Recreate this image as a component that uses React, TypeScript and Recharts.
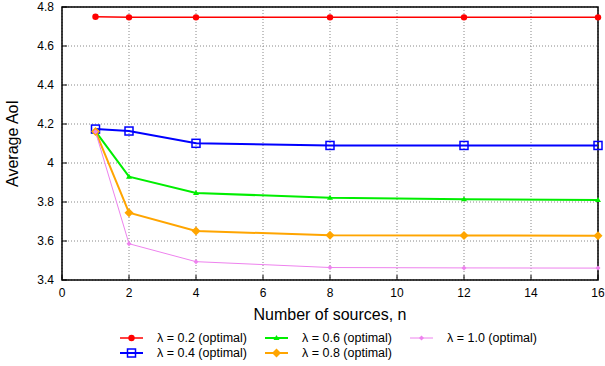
import { LineChart, Line, XAxis, YAxis, CartesianGrid, ReferenceArea } from 'recharts'

// n values and measured average AoI per lambda
const sources = [1, 2, 4, 8, 12, 16]
const lambda02 = [4.75, 4.747, 4.747, 4.747, 4.747, 4.747]
const lambda04 = [4.174, 4.164, 4.101, 4.09, 4.09, 4.09]
const lambda06 = [4.162, 3.93, 3.846, 3.822, 3.814, 3.81]
const lambda08 = [4.162, 3.745, 3.651, 3.63, 3.628, 3.627]
const lambda10 = [4.16, 3.586, 3.494, 3.464, 3.462, 3.461]

const seriesKeys = ['l02', 'l04', 'l06', 'l08', 'l10']
const seriesNames = ['λ = 0.2 (optimal)', 'λ = 0.4 (optimal)', 'λ = 0.6 (optimal)', 'λ = 0.8 (optimal)', 'λ = 1.0 (optimal)']
const seriesColors = ['#ff0000', '#0000ff', '#00ee00', '#ffa500', '#ee82ee']
const seriesWidths = [1.5, 2, 2, 2, 1]

const xTicks = [0, 2, 4, 6, 8, 10, 12, 14, 16]
const yTicks = [3.4, 3.6, 3.8, 4, 4.2, 4.4, 4.6, 4.8]

const rows = sources.map((n, i) => ({
  n,
  l02: lambda02[i],
  l04: lambda04[i],
  l06: lambda06[i],
  l08: lambda08[i],
  l10: lambda10[i],
}))

const FONT = '"Liberation Sans", Arial, Helvetica, sans-serif'

function Marker({ kind, cx, cy, color }: { kind: number; cx: number; cy: number; color: string }) {
  switch (kind) {
    case 0:
      return <circle cx={cx} cy={cy} r={3.2} fill={color} />
    case 1:
      return <rect x={cx - 4} y={cy - 4} width={8} height={8} fill="none" stroke={color} strokeWidth={1.5} />
    case 2:
      return <polygon points={`${cx},${cy - 3} ${cx + 3},${cy + 2} ${cx - 3},${cy + 2}`} fill={color} />
    case 3:
      return <polygon points={`${cx},${cy - 4.5} ${cx + 4.5},${cy} ${cx},${cy + 4.5} ${cx - 4.5},${cy}`} fill={color} />
    default:
      return <polygon points={`${cx},${cy - 2.5} ${cx + 2.5},${cy} ${cx},${cy + 2.5} ${cx - 2.5},${cy}`} fill={color} />
  }
}

// eslint-disable-next-line @typescript-eslint/no-explicit-any
const BottomTick = ({ x, y, payload }: any) => (
  <g>
    <line x1={x} y1={y} x2={x} y2={y - 5} stroke="#000" strokeWidth={1} />
    <text x={x} y={y + 13} textAnchor="middle" dominantBaseline="central" fontSize={12} fill="#000" fontFamily={FONT}>
      {payload.value}
    </text>
  </g>
)

// eslint-disable-next-line @typescript-eslint/no-explicit-any
const LeftTick = ({ x, y, payload }: any) => (
  <g>
    <line x1={x} y1={y} x2={x + 5} y2={y} stroke="#000" strokeWidth={1} />
    <text x={x - 8} y={y} textAnchor="end" dominantBaseline="central" fontSize={12} fill="#000" fontFamily={FONT}>
      {payload.value}
    </text>
  </g>
)

// eslint-disable-next-line @typescript-eslint/no-explicit-any
const TopTick = ({ x, y }: any) => <line x1={x} y1={y} x2={x} y2={y + 5} stroke="#000" strokeWidth={1} />
// eslint-disable-next-line @typescript-eslint/no-explicit-any
const RightTick = ({ x, y }: any) => <line x1={x} y1={y} x2={x - 5} y2={y} stroke="#000" strokeWidth={1} />

const legendCols = [120, 265, 410]
const legendRows = [338, 353]

export default function App() {
  return (
    <div style={{ position: 'absolute', left: 0, top: 0, width: 605, height: 366, background: '#fff', fontFamily: FONT }}>
      <LineChart width={605} height={366} data={rows} margin={{ top: 7, right: 7, bottom: 46, left: 0 }}>
        <CartesianGrid stroke="#888" strokeDasharray="1 2" horizontalValues={yTicks} verticalValues={xTicks} />
        <XAxis
          dataKey="n"
          type="number"
          domain={[0, 16]}
          ticks={xTicks}
          interval={0}
          axisLine={false}
          tickLine={false}
          tickSize={0}
          tickMargin={0}
          tick={<BottomTick />}
          height={40}
          label={{ value: 'Number of sources, n', position: 'insideBottom', offset: 0, fontSize: 16, fill: '#000', fontFamily: FONT }}
        />
        <XAxis
          xAxisId="top"
          orientation="top"
          dataKey="n"
          type="number"
          domain={[0, 16]}
          ticks={xTicks}
          interval={0}
          axisLine={false}
          tickLine={false}
          tickSize={0}
          tickMargin={0}
          tick={<TopTick />}
          height={0}
        />
        <YAxis
          type="number"
          domain={[3.4, 4.8]}
          ticks={yTicks}
          interval={0}
          axisLine={false}
          tickLine={false}
          tickSize={0}
          tickMargin={0}
          tick={<LeftTick />}
          width={62}
          label={{ value: 'Average AoI', angle: -90, position: 'insideLeft', offset: 12, fontSize: 16, fill: '#000', fontFamily: FONT, style: { textAnchor: 'middle' } }}
        />
        <YAxis
          yAxisId="right"
          orientation="right"
          type="number"
          domain={[3.4, 4.8]}
          ticks={yTicks}
          interval={0}
          axisLine={false}
          tickLine={false}
          tickSize={0}
          tickMargin={0}
          tick={<RightTick />}
          width={0}
        />
        <ReferenceArea x1={0} x2={16} y1={3.4} y2={4.8} fill="none" stroke="#000" strokeWidth={1.5} ifOverflow="visible" />
        {seriesKeys.map((key, i) => (
          <Line
            key={key}
            dataKey={key}
            stroke={seriesColors[i]}
            strokeWidth={seriesWidths[i]}
            isAnimationActive={false}
            // eslint-disable-next-line @typescript-eslint/no-explicit-any
            dot={(p: any) => <Marker key={`${key}-${p.index}`} kind={i} cx={p.cx} cy={p.cy} color={seriesColors[i]} />}
            activeDot={false}
          />
        ))}
      </LineChart>

      {/* gnuplot-style key, three columns */}
      <svg width={605} height={366} style={{ position: 'absolute', left: 0, top: 0, pointerEvents: 'none' }}>
        {seriesNames.map((name, i) => {
          const x = legendCols[Math.floor(i / 2)]
          const y = legendRows[i % 2]
          return (
            <g key={name}>
              <line x1={x} y1={y} x2={x + 23} y2={y} stroke={seriesColors[i]} strokeWidth={seriesWidths[i]} />
              <Marker kind={i} cx={x + 11.5} cy={y} color={seriesColors[i]} />
              <text x={x + 37} y={y} dominantBaseline="central" fontSize={12.5} fill="#000" fontFamily={FONT}>
                {name}
              </text>
            </g>
          )
        })}
      </svg>
    </div>
  )
}
